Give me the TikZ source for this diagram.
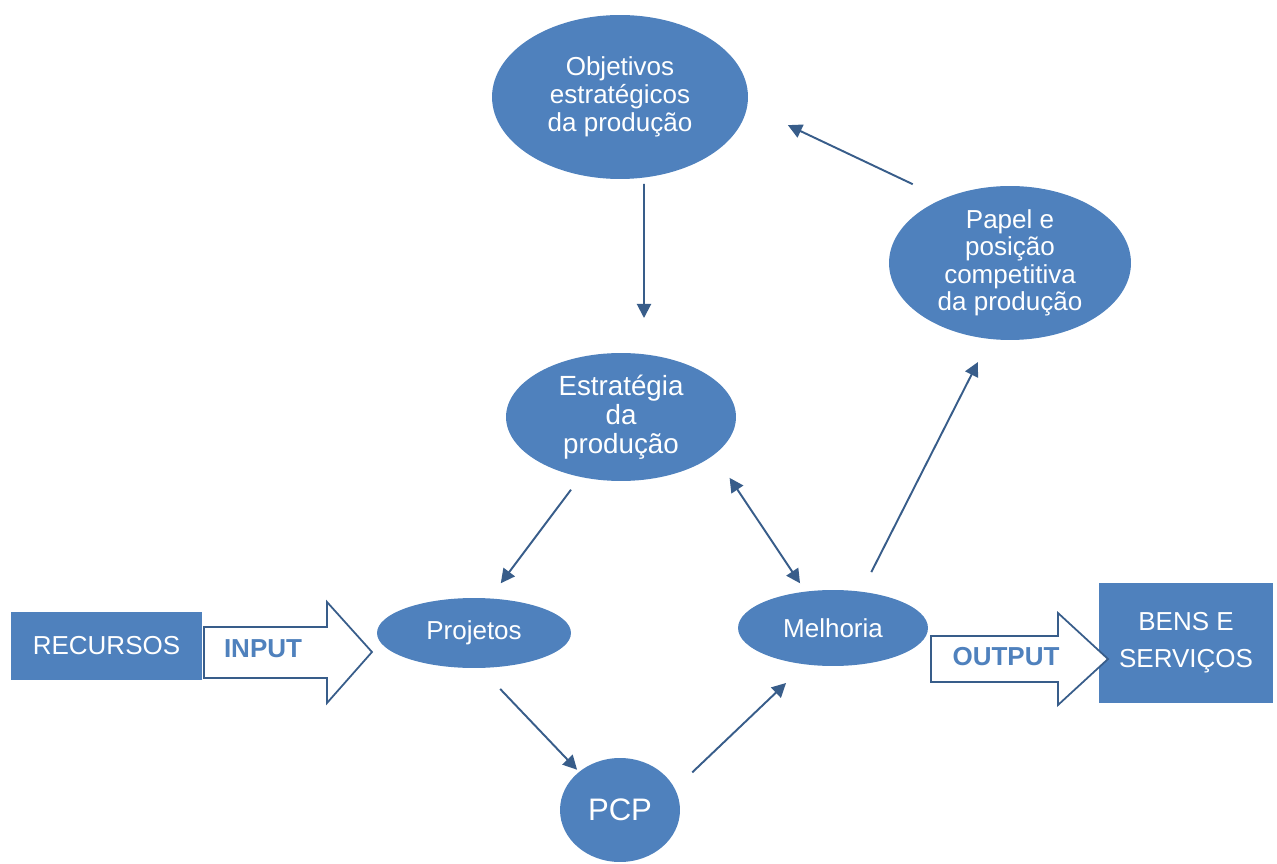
\documentclass[tikz,border=0pt]{standalone}
\usepackage{fontspec}
\setmainfont{Liberation Sans}
\usetikzlibrary{arrows.meta,shapes.geometric,positioning}
\definecolor{boxblue}{RGB}{79,129,189}
\definecolor{lineblue}{RGB}{56,93,138}

\begin{document}
\begin{tikzpicture}[x=0.02cm, y=-0.02cm,
    >={Triangle[length=8pt,width=8pt]},
    blob/.style={ellipse, fill=boxblue, text=white, inner sep=0pt, outer sep=0pt, align=center},
    blk/.style={rectangle, fill=boxblue, text=white, inner sep=0pt, align=center},
    flow/.style={->, draw=lineblue, fill=lineblue, line width=1.1pt},
    fat/.style={draw=lineblue, fill=white, line width=1pt, line join=miter},
    tag/.style={text=boxblue, inner sep=0pt, font=\fontsize{14.8}{16}\selectfont\bfseries}]
  \useasboundingbox (0,0) rectangle (1277,864);
  % ellipses
  \node[blob, minimum width=5.12cm, minimum height=3.28cm, font=\fontsize{14.8}{15.9}\selectfont] (obj) at (620,97) {Objetivos\\estratégicos\\da produção};
  \node[blob, minimum width=4.84cm, minimum height=3.08cm, font=\fontsize{14.8}{15.6}\selectfont] (pap) at (1010,263) {Papel e\\posição\\competitiva\\da produção};
  \node[blob, minimum width=4.6cm, minimum height=2.56cm, font=\fontsize{15.8}{16.5}\selectfont] (est) at (621,417) {Estratégia\\da\\produção};
  \node[blob, minimum width=3.88cm, minimum height=1.4cm, font=\fontsize{14.8}{16}\selectfont] (proj) at (474,633) {Projetos};
  \node[blob, minimum width=3.8cm, minimum height=1.52cm, font=\fontsize{14.8}{16}\selectfont] (mel) at (833,628) {Melhoria};
  \node[blob, minimum width=2.4cm, minimum height=2.08cm, font=\fontsize{17.7}{19}\selectfont] (pcp) at (620,810) {PCP};
  % boxes
  \node[blk, minimum width=3.82cm, minimum height=1.36cm, font=\fontsize{14.8}{16}\selectfont] (rec) at (106.5,646) {RECURSOS};
  \node[blk, minimum width=3.48cm, minimum height=2.4cm, font=\fontsize{14.8}{21}\selectfont] (bens) at (1186,643) {BENS E\\SERVIÇOS};
  % big arrows
  \draw[fat] (204,627) -- (327,627) -- (327,602) -- (372,652) -- (327,703) -- (327,678) -- (204,678) -- cycle;
  \node[tag] (input) at (263,649) {INPUT};
  \draw[fat] (931,636) -- (1058,636) -- (1058,613) -- (1108,659) -- (1058,705) -- (1058,682) -- (931,682) -- cycle;
  \node[tag] (output) at (1006,657) {OUTPUT};
  % connectors
  \draw[flow, shorten <=0.1cm, shorten >=0.7cm] ([xshift=0.48cm]obj.south) -- ([xshift=0.46cm]est.north);
  \draw[flow, shorten <=0.68cm, shorten >=0.9cm] (pap.136.5) -- (obj.-4.5);
  \draw[flow, shorten <=0.32cm, shorten >=0.38cm] (est.-124) -- (proj.66);
  \draw[flow, <->, shorten <=0.56cm, shorten >=0.2cm] (est.-22) -- (mel.127);
  \draw[flow, shorten <=0.44cm, shorten >=0.52cm] (mel.52) -- (pap.-105);
  \draw[flow, shorten <=0.58cm, shorten >=0.06cm] (proj.-80) -- (pcp.137);
  \draw[flow, shorten <=0.48cm, shorten >=0.54cm] (pcp.21.5) -- (mel.-127);
\end{tikzpicture}
\end{document}
